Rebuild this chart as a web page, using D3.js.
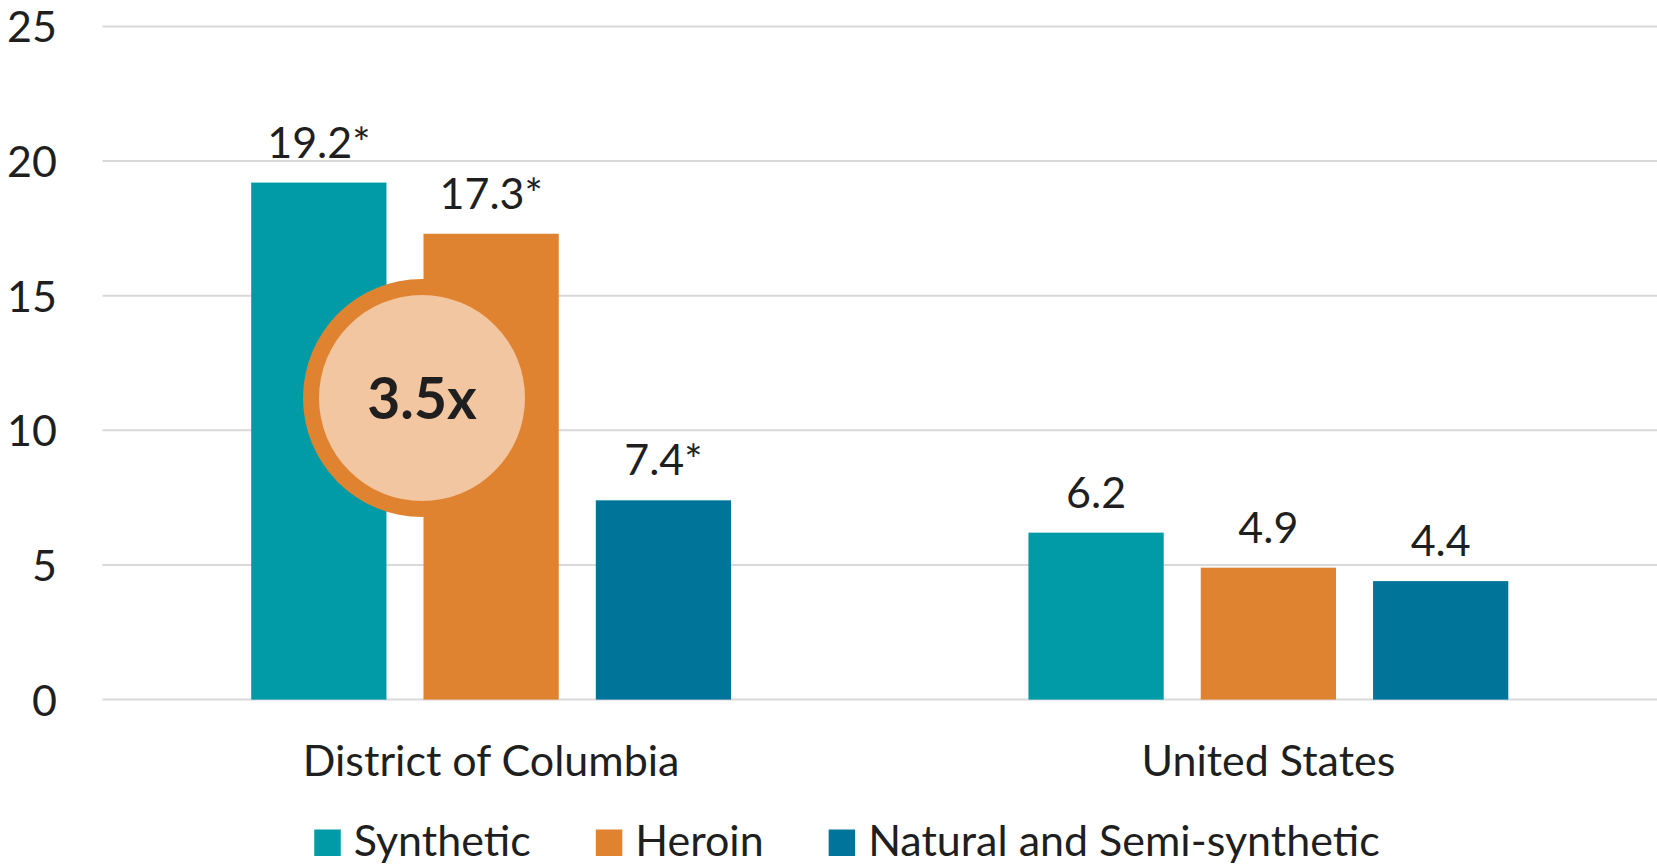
<!DOCTYPE html>
<html>
<head>
<meta charset="utf-8">
<script src="https://cdn.jsdelivr.net/npm/d3@7"></script>
<style>
  html, body { margin: 0; padding: 0; background: #fff; }
  svg text { font-family: Lato, "Open Sans", sans-serif; fill: #1f1f1f; }
</style>
</head>
<body>
<svg id="chart" width="1657" height="865"></svg>
<script>
// Overdose death rates by opioid type
const regions = ["District of Columbia", "United States"];
const series = ["Synthetic", "Heroin", "Natural and Semi-synthetic"];
const synthetic = [19.2, 6.2];
const heroin = [17.3, 4.9];
const naturalSemi = [7.4, 4.4];
const valueLabels = [["19.2*", "17.3*", "7.4*"], ["6.2", "4.9", "4.4"]];
const yTicks = [0, 5, 10, 15, 20, 25];
const colors = ["#019BA8", "#E08331", "#017499"];
const ratioText = "3.5x";
const ratioLevel = 11.2;

const seriesValues = [synthetic, heroin, naturalSemi];
const rows = regions.map((r, i) => ({
  region: r,
  bars: series.map((s, j) => ({ series: s, value: seriesValues[j][i], label: valueLabels[i][j], color: colors[j] }))
}));

const svg = d3.select("#chart");
const fontSize = 43;

const y = d3.scaleLinear().domain([0, 25]).range([699.6, 26.4]);
const x0 = d3.scaleBand().domain(regions).range([102.5, 1657]).padding(0);
const x1 = d3.scaleBand().domain(series).range([0, x0.bandwidth()])
  .paddingInner(0.215).paddingOuter(0.863);

// Horizontal gridlines
svg.append("g").selectAll("line").data(yTicks).join("line")
  .attr("x1", 102.5).attr("x2", 1657)
  .attr("y1", d => y(d)).attr("y2", d => y(d))
  .attr("stroke", "#D9D9D9").attr("stroke-width", 2);

// Y axis labels
const yAxis = d3.axisLeft(y).tickValues(yTicks).tickSize(0).tickPadding(0);
const yG = svg.append("g").attr("transform", "translate(57,0)").call(yAxis);
yG.select(".domain").remove();
yG.selectAll("text").attr("font-size", fontSize).attr("dy", "0.36em")
  .style("font-family", "Lato, sans-serif").attr("fill", "#1f1f1f");

// Bars
const groups = svg.append("g").selectAll("g").data(rows).join("g")
  .attr("transform", d => `translate(${x0(d.region)},0)`);

groups.selectAll("rect").data(d => d.bars).join("rect")
  .attr("x", d => x1(d.series))
  .attr("width", x1.bandwidth())
  .attr("y", d => y(d.value))
  .attr("height", d => y(0) - y(d.value))
  .attr("fill", d => d.color);

groups.selectAll("text.value").data(d => d.bars).join("text")
  .attr("class", "value")
  .attr("x", d => x1(d.series) + x1.bandwidth() / 2)
  .attr("y", d => y(d.value) - 25)
  .attr("text-anchor", "middle")
  .attr("font-size", fontSize)
  .text(d => d.label);

// Category labels
const xAxis = d3.axisBottom(x0).tickSize(0).tickPadding(0);
const xG = svg.append("g").attr("transform", "translate(0,776)").call(xAxis);
xG.select(".domain").remove();
xG.selectAll("text").attr("font-size", fontSize).attr("dy", 0)
  .style("font-family", "Lato, sans-serif").attr("fill", "#1f1f1f");

// Ratio badge between the DC synthetic and heroin bars
const badgeX = x0(regions[0]) + x1(series[1]) - 1.5;
const badgeY = y(ratioLevel);
const badge = svg.append("g").attr("transform", `translate(${badgeX},${badgeY})`);
badge.append("circle").attr("r", 119).attr("fill", "#E08331");
badge.append("circle").attr("r", 103).attr("fill", "#F2C6A0");
badge.append("text").attr("text-anchor", "middle").attr("dy", "0.36em")
  .attr("font-size", 57).attr("font-weight", 700).attr("fill", "#1a1a1a")
  .text(ratioText);

// Legend
const legend = svg.append("g");
const sq = 26.5, gapText = 13, gapItem = 65, legendBaseline = 856;
const items = legend.selectAll("g").data(series).join("g");
items.append("rect").attr("width", sq).attr("height", sq)
  .attr("y", legendBaseline - sq).attr("fill", (d, i) => colors[i]);
items.append("text").attr("x", sq + gapText).attr("y", legendBaseline)
  .attr("font-size", fontSize).text(d => d);
const widths = [];
items.each(function () {
  const w = sq + gapText + d3.select(this).select("text").node().getComputedTextLength();
  widths.push(w);
});
const total = d3.sum(widths) + gapItem * (widths.length - 1);
let start = 847 - total / 2;
items.attr("transform", (d, i) => {
  const t = `translate(${start},0)`;
  start += widths[i] + gapItem;
  return t;
});
</script>
</body>
</html>
